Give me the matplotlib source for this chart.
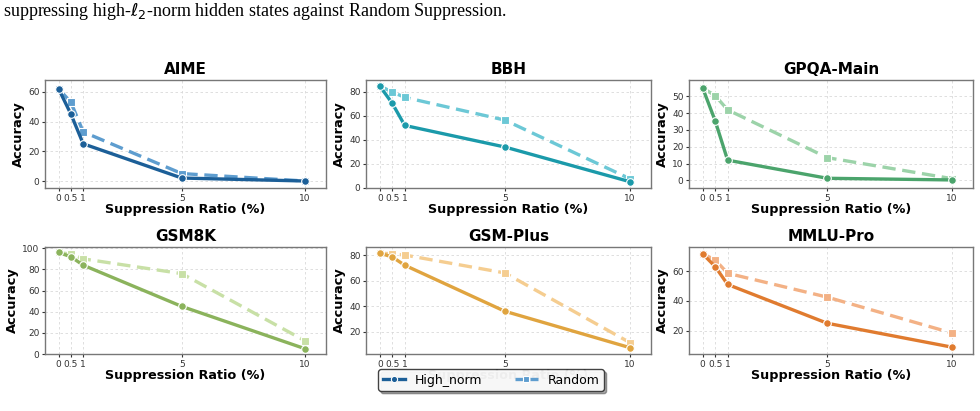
import matplotlib
matplotlib.use("Agg")
import matplotlib.pyplot as plt
from matplotlib.lines import Line2D

ratios = [0, 0.5, 1, 5, 10]
tick_labels = ["0", "0.5", "1", "5", "10"]

datasets = ["AIME", "BBH", "GPQA-Main", "GSM8K", "GSM-Plus", "MMLU-Pro"]

aime_high = [62, 45, 25, 2, 0]
aime_rand = [62, 53, 33, 5, 0]
bbh_high = [85, 70.5, 52, 34, 5]
bbh_rand = [85, 80, 75.5, 56.5, 7.5]
gpqa_high = [55, 35.5, 12, 1.2, 0.2]
gpqa_rand = [55, 50.5, 42, 13.5, 1]
gsm8k_high = [96, 92, 84, 45, 5]
gsm8k_rand = [96, 94.5, 90, 76, 12.5]
gsmplus_high = [81.5, 78.5, 72, 36, 7.5]
gsmplus_rand = [81.5, 81, 80, 66, 11.5]
mmlu_high = [71.5, 63, 51, 25, 9]
mmlu_rand = [71.5, 67.5, 58.5, 42.5, 18.5]

high_vals = [aime_high, bbh_high, gpqa_high, gsm8k_high, gsmplus_high, mmlu_high]
rand_vals = [aime_rand, bbh_rand, gpqa_rand, gsm8k_rand, gsmplus_rand, mmlu_rand]

high_colors = ["#1c5f98", "#1b9aaa", "#4ba46c", "#8bb35c", "#e0a43f", "#e07b2f"]
rand_colors = ["#5e9dcf", "#6cc8d6", "#9cd3a9", "#c8e0a6", "#f5cd90", "#f3b185"]

ylims = [(-4.7, 67.9), (-0.3, 90.0), (-4.6, 59.8), (0, 101.2), (2.5, 86.3), (4.4, 76.1)]
yticks = [[0, 20, 40, 60], [0, 20, 40, 60, 80], [0, 10, 20, 30, 40, 50],
          [0, 20, 40, 60, 80, 100], [20, 40, 60, 80], [20, 40, 60]]

W, H = 980, 411
fig = plt.figure(figsize=(W / 100, H / 100), dpi=100)

col_left = [45, 366, 689]
col_w = [281, 285, 284]
row_top = [80, 247]
row_h = [108, 107]

for i, name in enumerate(datasets):
    r, c = divmod(i, 3)
    left = col_left[c] / W
    bottom = 1 - (row_top[r] + row_h[r]) / H
    ax = fig.add_axes([left, bottom, col_w[c] / W, row_h[r] / H])
    ax.plot(ratios, high_vals[i], color=high_colors[i], lw=2.4, marker="o",
            ms=5.5, mec="white", mew=0.8, zorder=3)
    ax.plot(ratios, rand_vals[i], color=rand_colors[i], lw=2.4, ls=(0, (4, 2)),
            marker="s", ms=5.5, mec="white", mew=0.8, zorder=2)
    ax.set_xlim(-0.55, 10.85)
    ax.set_ylim(*ylims[i])
    ax.set_xticks(ratios)
    ax.set_xticklabels(tick_labels)
    ax.set_yticks(yticks[i])
    ax.tick_params(labelsize=6.5, colors="#333333", length=2.5, width=0.8, pad=1.5)
    ax.grid(True, ls=(0, (3, 3)), color="#d9d9d9", lw=0.6)
    ax.set_axisbelow(True)
    for s in ax.spines.values():
        s.set_color("#777777")
        s.set_linewidth(1.0)
    ax.set_title(name, fontsize=11, fontweight="bold", pad=4)
    ax.set_xlabel("Suppression Ratio (%)", fontsize=9.2, fontweight="bold", labelpad=0)
    ax.set_ylabel("Accuracy", fontsize=9.4, fontweight="bold", labelpad=2)

handles = [
    Line2D([], [], color=high_colors[0], lw=2.4, marker="o", ms=4.5, mec="white", mew=0.8),
    Line2D([], [], color=rand_colors[0], lw=2.4, ls=(0, (3, 1.5)), marker="s", ms=4.5,
           mec="white", mew=0.8),
]
leg = fig.legend(handles, ["High_norm", "Random"], loc="center",
                 bbox_to_anchor=(491 / W, 1 - 380 / H), ncol=2, fontsize=9,
                 frameon=True, shadow=True, fancybox=True, framealpha=0.92,
                 edgecolor="#333333", handlelength=1.8, columnspacing=2.6,
                 borderpad=0.35, handletextpad=0.8)

fig.text(3 / W, 1 - 12 / H,
         r"suppressing high-$\ell_2$-norm hidden states against Random Suppression.",
         fontsize=13, family="Liberation Serif", va="center", ha="left")

fig.savefig("out.png", dpi=100)
